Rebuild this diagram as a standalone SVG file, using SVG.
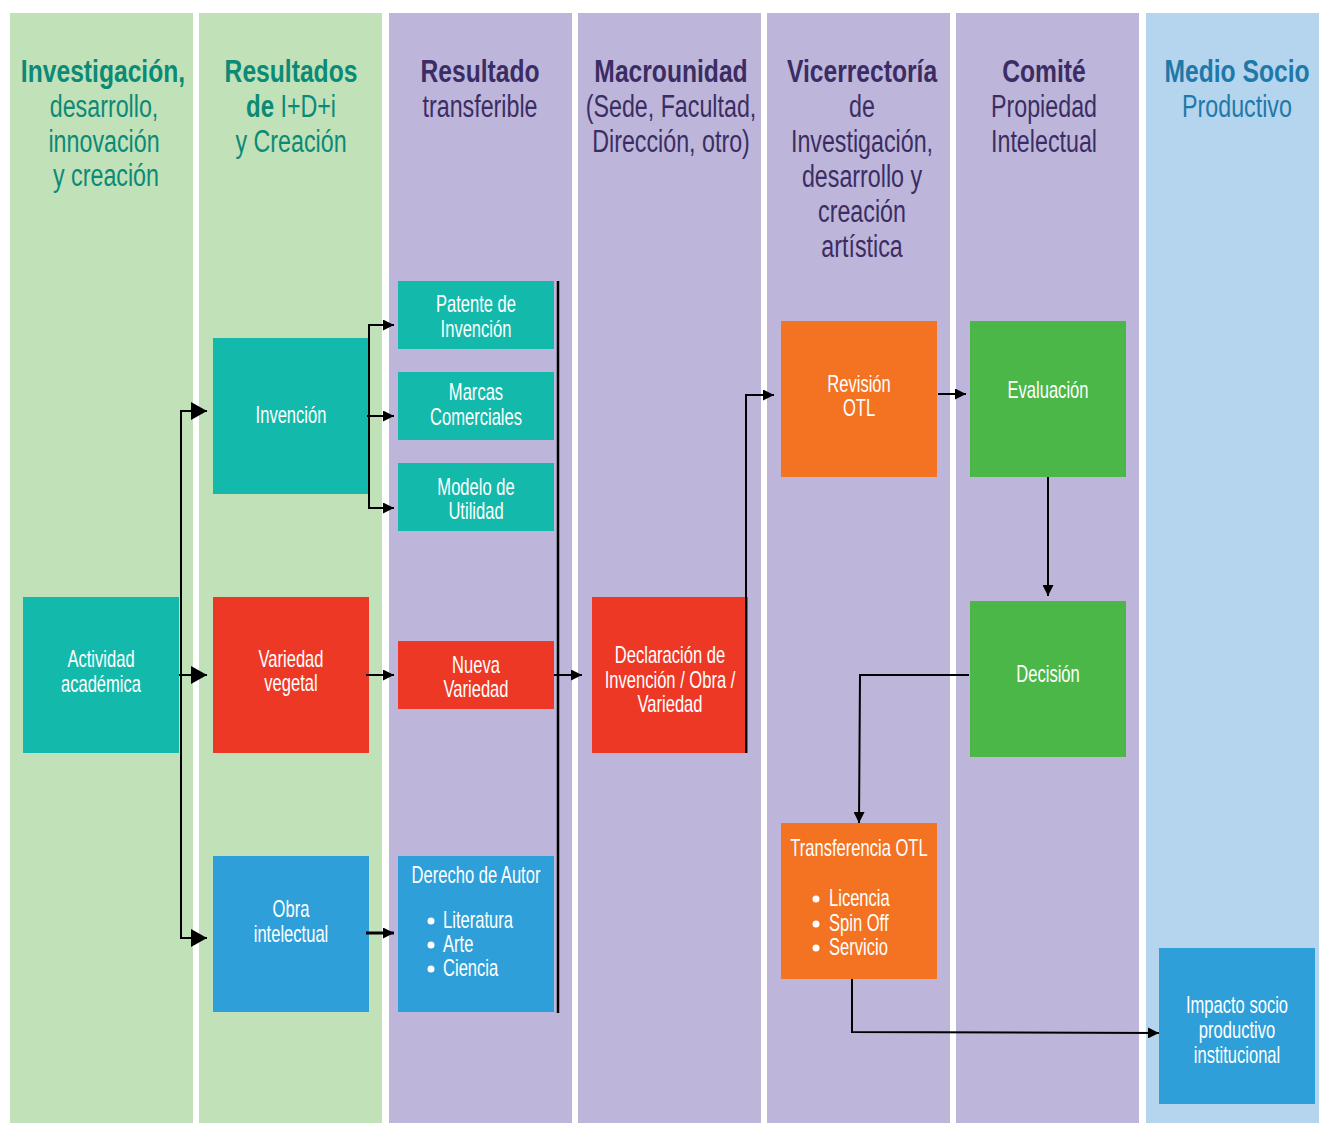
<svg xmlns="http://www.w3.org/2000/svg" width="1319" height="1123" viewBox="0 0 1319 1123">
<style>
text{font-family:"Liberation Sans",Arial,sans-serif;}
.hb{font-size:32px;font-weight:bold;text-anchor:middle;}
.hr{font-size:31px;text-anchor:middle;}
.tg{fill:#0b8a77;}
.tp{fill:#3b2d63;}
.tb{fill:#1f79a8;}
.n{font-size:23px;fill:#ffffff;text-anchor:middle;}
.nl{font-size:23px;fill:#ffffff;}
.colg{fill:#c1e1b8;}
.colp{fill:#bdb6da;}
.colb{fill:#b5d4ee;}
.teal{fill:#13b9ab;}
.red{fill:#ee3826;}
.blue{fill:#2e9fd9;}
.orange{fill:#f47322;}
.green{fill:#4bb749;}
.c{fill:none;stroke:#000000;stroke-width:2;}
.dot{fill:#ffffff;}
</style>
<defs>
<marker id="sm" viewBox="0 0 11 11" refX="11" refY="5.5" markerWidth="11" markerHeight="11" markerUnits="userSpaceOnUse" orient="auto">
<path d="M0,0 L11,5.5 L0,11 z" fill="#000000"/>
</marker>
<marker id="lg" viewBox="0 0 16 18" refX="16" refY="9" markerWidth="16" markerHeight="18" markerUnits="userSpaceOnUse" orient="auto">
<path d="M0,0 L16,9 L0,18 z" fill="#000000"/>
</marker>
</defs>
<rect x="0" y="0" width="1319" height="1123" fill="#ffffff"/>
<g id="lanes">
<rect class="colg" x="10" y="13" width="183" height="1110"/>
<rect class="colg" x="199" y="13" width="183" height="1110"/>
<rect class="colp" x="389" y="13" width="183" height="1110"/>
<rect class="colp" x="578" y="13" width="183" height="1110"/>
<rect class="colp" x="767" y="13" width="183" height="1110"/>
<rect class="colp" x="956" y="13" width="183" height="1110"/>
<rect class="colb" x="1146" y="13" width="173" height="1110"/>
</g>
<g id="headers">
<text class="hb tg" transform="translate(103,82) scale(0.77,1)">Investigación,</text>
<text class="hr tg" transform="translate(104,117) scale(0.75,1)">desarrollo,</text>
<text class="hr tg" transform="translate(104,152) scale(0.75,1)">innovación</text>
<text class="hr tg" transform="translate(106,186) scale(0.75,1)">y creación</text>
<text class="hb tg" transform="translate(291,82) scale(0.77,1)">Resultados</text>
<text class="hr tg" transform="translate(291,117) scale(0.75,1)"><tspan font-weight="bold" font-size="32px">de</tspan> I+D+i</text>
<text class="hr tg" transform="translate(291,152) scale(0.75,1)">y Creación</text>
<text class="hb tp" transform="translate(480,82) scale(0.77,1)">Resultado</text>
<text class="hr tp" transform="translate(480,117) scale(0.75,1)">transferible</text>
<text class="hb tp" transform="translate(671,82) scale(0.77,1)">Macrounidad</text>
<text class="hr tp" transform="translate(671,117) scale(0.75,1)">(Sede, Facultad,</text>
<text class="hr tp" transform="translate(671,152) scale(0.75,1)">Dirección, otro)</text>
<text class="hb tp" transform="translate(862,82) scale(0.77,1)">Vicerrectoría</text>
<text class="hr tp" transform="translate(862,117) scale(0.75,1)">de</text>
<text class="hr tp" transform="translate(862,152) scale(0.75,1)">Investigación,</text>
<text class="hr tp" transform="translate(862,187) scale(0.75,1)">desarrollo y</text>
<text class="hr tp" transform="translate(862,222) scale(0.75,1)">creación</text>
<text class="hr tp" transform="translate(862,257) scale(0.75,1)">artística</text>
<text class="hb tp" transform="translate(1044,82) scale(0.77,1)">Comité</text>
<text class="hr tp" transform="translate(1044,117) scale(0.75,1)">Propiedad</text>
<text class="hr tp" transform="translate(1044,152) scale(0.75,1)">Intelectual</text>
<text class="hb tb" transform="translate(1237,82) scale(0.77,1)">Medio Socio</text>
<text class="hr tb" transform="translate(1237,117) scale(0.75,1)">Productivo</text>
</g>
<g id="n-actividad">
<rect class="teal" x="23" y="597" width="156" height="156"/>
<text class="n" transform="translate(101,667) scale(0.72,1)">Actividad</text>
<text class="n" transform="translate(101,692) scale(0.72,1)">académica</text>
</g>
<g id="n-invencion">
<rect class="teal" x="213" y="338" width="156" height="156"/>
<text class="n" transform="translate(291,423) scale(0.72,1)">Invención</text>
</g>
<g id="n-variedad">
<rect class="red" x="213" y="597" width="156" height="156"/>
<text class="n" transform="translate(291,667) scale(0.72,1)">Variedad</text>
<text class="n" transform="translate(291,691) scale(0.72,1)">vegetal</text>
</g>
<g id="n-obra">
<rect class="blue" x="213" y="856" width="156" height="156"/>
<text class="n" transform="translate(291,917) scale(0.72,1)">Obra</text>
<text class="n" transform="translate(291,942) scale(0.72,1)">intelectual</text>
</g>
<g id="n-patente">
<rect class="teal" x="398" y="281" width="156" height="68"/>
<text class="n" transform="translate(476,312) scale(0.72,1)">Patente de</text>
<text class="n" transform="translate(476,337) scale(0.72,1)">Invención</text>
</g>
<g id="n-marcas">
<rect class="teal" x="398" y="372" width="156" height="68"/>
<text class="n" transform="translate(476,400) scale(0.72,1)">Marcas</text>
<text class="n" transform="translate(476,425) scale(0.72,1)">Comerciales</text>
</g>
<g id="n-modelo">
<rect class="teal" x="398" y="463" width="156" height="68"/>
<text class="n" transform="translate(476,495) scale(0.72,1)">Modelo de</text>
<text class="n" transform="translate(476,519) scale(0.72,1)">Utilidad</text>
</g>
<g id="n-nueva">
<rect class="red" x="398" y="641" width="156" height="68"/>
<text class="n" transform="translate(476,673) scale(0.72,1)">Nueva</text>
<text class="n" transform="translate(476,697) scale(0.72,1)">Variedad</text>
</g>
<g id="n-derecho">
<rect class="blue" x="398" y="856" width="156" height="156"/>
<text class="n" transform="translate(476,883) scale(0.72,1)">Derecho de Autor</text>
<circle class="dot" cx="431" cy="921" r="3.5"/>
<circle class="dot" cx="431" cy="945" r="3.5"/>
<circle class="dot" cx="431" cy="969" r="3.5"/>
<text class="nl" transform="translate(443,928) scale(0.72,1)">Literatura</text>
<text class="nl" transform="translate(443,952) scale(0.72,1)">Arte</text>
<text class="nl" transform="translate(443,976) scale(0.72,1)">Ciencia</text>
</g>
<g id="n-declaracion">
<rect class="red" x="592" y="597" width="156" height="156"/>
<text class="n" transform="translate(670,663) scale(0.72,1)">Declaración de</text>
<text class="n" transform="translate(670,688) scale(0.72,1)">Invención / Obra /</text>
<text class="n" transform="translate(670,712) scale(0.72,1)">Variedad</text>
</g>
<g id="n-revision">
<rect class="orange" x="781" y="321" width="156" height="156"/>
<text class="n" transform="translate(859,392) scale(0.72,1)">Revisión</text>
<text class="n" transform="translate(859,416) scale(0.72,1)">OTL</text>
</g>
<g id="n-evaluacion">
<rect class="green" x="970" y="321" width="156" height="156"/>
<text class="n" transform="translate(1048,398) scale(0.72,1)">Evaluación</text>
</g>
<g id="n-decision">
<rect class="green" x="970" y="601" width="156" height="156"/>
<text class="n" transform="translate(1048,682) scale(0.72,1)">Decisión</text>
</g>
<g id="n-transferencia">
<rect class="orange" x="781" y="823" width="156" height="156"/>
<text class="n" transform="translate(859,856) scale(0.72,1)">Transferencia OTL</text>
<circle class="dot" cx="816" cy="899" r="3.5"/>
<circle class="dot" cx="816" cy="924" r="3.5"/>
<circle class="dot" cx="816" cy="948" r="3.5"/>
<text class="nl" transform="translate(829,906) scale(0.72,1)">Licencia</text>
<text class="nl" transform="translate(829,931) scale(0.72,1)">Spin Off</text>
<text class="nl" transform="translate(829,955) scale(0.72,1)">Servicio</text>
</g>
<g id="n-impacto">
<rect class="blue" x="1159" y="948" width="156" height="156"/>
<text class="n" transform="translate(1237,1013) scale(0.72,1)">Impacto socio</text>
<text class="n" transform="translate(1237,1038) scale(0.72,1)">productivo</text>
<text class="n" transform="translate(1237,1063) scale(0.72,1)">institucional</text>
</g>
<g id="connectors">
<path class="c" d="M179,675 L207,675" marker-end="url(#lg)"/>
<path class="c" d="M207,411 L181,411 L181,938 L207,938" marker-end="url(#lg)"/>
<path class="c" d="M181,411 L207,411" marker-end="url(#lg)"/>
<path class="c" d="M367,416 L394,416" marker-end="url(#sm)"/>
<path class="c" d="M394,325 L369,325 L369,508 L394,508" marker-end="url(#sm)"/>
<path class="c" d="M369,325 L394,325" marker-end="url(#sm)"/>
<path class="c" d="M366,675 L394,675" marker-end="url(#sm)"/>
<path class="c" style="stroke-width:3" d="M366,933 L394,933" marker-end="url(#sm)"/>
<path class="c" style="stroke-width:2.5" d="M558,281 L558,1013"/>
<path class="c" d="M554,675 L582,675" marker-end="url(#sm)"/>
<path class="c" d="M746,753 L746,395 L774,395" marker-end="url(#sm)"/>
<path class="c" d="M938,394 L966,394" marker-end="url(#sm)"/>
<path class="c" d="M1048,477 L1048,596" marker-end="url(#sm)"/>
<path class="c" d="M969,675 L860,675 L859,823" marker-end="url(#sm)"/>
<path class="c" d="M852,979 L852,1032 L1159,1033" marker-end="url(#sm)"/>
</g>
</svg>
